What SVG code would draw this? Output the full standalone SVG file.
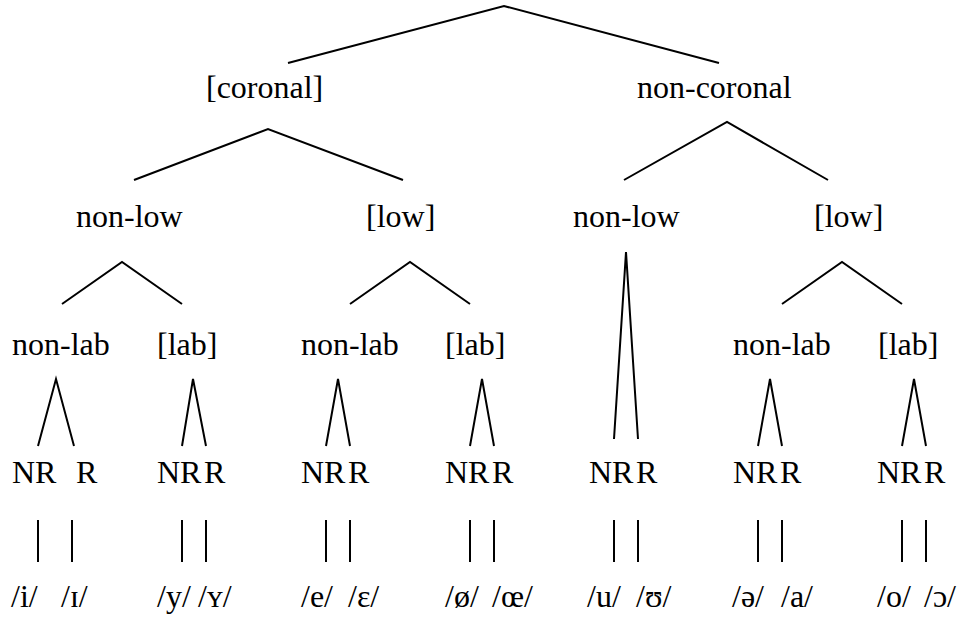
<svg xmlns="http://www.w3.org/2000/svg" width="963" height="621" viewBox="0 0 963 621">
  <style>
    text { font-family: 'Liberation Serif', 'Times New Roman', Times, 'DejaVu Serif', 'Noto Serif', serif; font-size: 32px; fill: #000; }
    .edge { stroke: #000; stroke-width: 2; fill: none; stroke-linecap: butt; stroke-linejoin: miter; }
  </style>
  <rect width="963" height="621" fill="#fff"/>

  <!-- branches of the feature tree -->
  <g id="connectors" class="edge">
    <polyline points="288,63 504,6 719,63"/>
    <polyline points="134,180 268,129 403,180"/>
    <polyline points="624,180 727,122 828,180"/>
    <polyline points="62,304 122,262 182,304"/>
    <polyline points="350,304 410,262 470,304"/>
    <polyline points="614,439 626,252 638,439"/>
    <polyline points="782,304 842,262 902,304"/>
    <polyline points="38,446 56,379 74,446"/>
    <polyline points="182,446 193,379 206,446"/>
    <polyline points="326,446 338,379 350,446"/>
    <polyline points="470,446 482,379 494,446"/>
    <polyline points="758,446 770,379 782,446"/>
    <polyline points="902,446 914,379 926,446"/>
    <!-- vowel links -->
    <line x1="38" y1="520" x2="38" y2="562"/>
    <line x1="72" y1="520" x2="72" y2="562"/>
    <line x1="182" y1="520" x2="182" y2="562"/>
    <line x1="206" y1="520" x2="206" y2="562"/>
    <line x1="326" y1="520" x2="326" y2="562"/>
    <line x1="350" y1="520" x2="350" y2="562"/>
    <line x1="470" y1="520" x2="470" y2="562"/>
    <line x1="494" y1="520" x2="494" y2="562"/>
    <line x1="614" y1="520" x2="614" y2="562"/>
    <line x1="638" y1="520" x2="638" y2="562"/>
    <line x1="758" y1="520" x2="758" y2="562"/>
    <line x1="782" y1="520" x2="782" y2="562"/>
    <line x1="902" y1="520" x2="902" y2="562"/>
    <line x1="926" y1="520" x2="926" y2="562"/>
  </g>

  <!-- place features -->
  <g id="coronal"><text x="206" y="98">[coronal]</text></g>
  <g id="non-coronal"><text x="637" y="98">non-coronal</text></g>

  <!-- height features -->
  <g id="cor-nonlow"><text x="76" y="227">non-low</text></g>
  <g id="cor-low"><text x="366" y="227">[low]</text></g>
  <g id="noncor-nonlow"><text x="573" y="227">non-low</text></g>
  <g id="noncor-low"><text x="814" y="227">[low]</text></g>

  <!-- labial features -->
  <g id="cor-nonlow-nonlab"><text x="12" y="355">non-lab</text></g>
  <g id="cor-nonlow-lab"><text x="157" y="355">[lab]</text></g>
  <g id="cor-low-nonlab"><text x="301" y="355">non-lab</text></g>
  <g id="cor-low-lab"><text x="445" y="355">[lab]</text></g>
  <g id="noncor-low-nonlab"><text x="733" y="355">non-lab</text></g>
  <g id="noncor-low-lab"><text x="878" y="355">[lab]</text></g>

  <!-- ATR: NR / R -->
  <g id="nr-r-1"><text x="12" y="483">NR</text><text x="76" y="483">R</text></g>
  <g id="nr-r-2"><text x="157" y="483">NR</text><text x="204" y="483">R</text></g>
  <g id="nr-r-3"><text x="301" y="483">NR</text><text x="348" y="483">R</text></g>
  <g id="nr-r-4"><text x="445" y="483">NR</text><text x="492" y="483">R</text></g>
  <g id="nr-r-5"><text x="589" y="483">NR</text><text x="636" y="483">R</text></g>
  <g id="nr-r-6"><text x="733" y="483">NR</text><text x="780" y="483">R</text></g>
  <g id="nr-r-7"><text x="877" y="483">NR</text><text x="924" y="483">R</text></g>

  <!-- vowels -->
  <g id="vowels">
    <text x="11" y="607">/i/</text>
    <text x="61" y="607">/ɪ/</text>
    <text x="157" y="607">/y/</text>
    <text x="198" y="607">/ʏ/</text>
    <text x="301" y="607">/e/</text>
    <text x="348" y="607">/ɛ/</text>
    <text x="445" y="607">/ø/</text>
    <text x="492" y="607">/œ/</text>
    <text x="587" y="607">/u/</text>
    <text x="636" y="607">/ʊ/</text>
    <text x="732" y="607">/ə/</text>
    <text x="781" y="607">/a/</text>
    <text x="877" y="607">/o/</text>
    <text x="924" y="607">/ɔ/</text>
  </g>
</svg>
